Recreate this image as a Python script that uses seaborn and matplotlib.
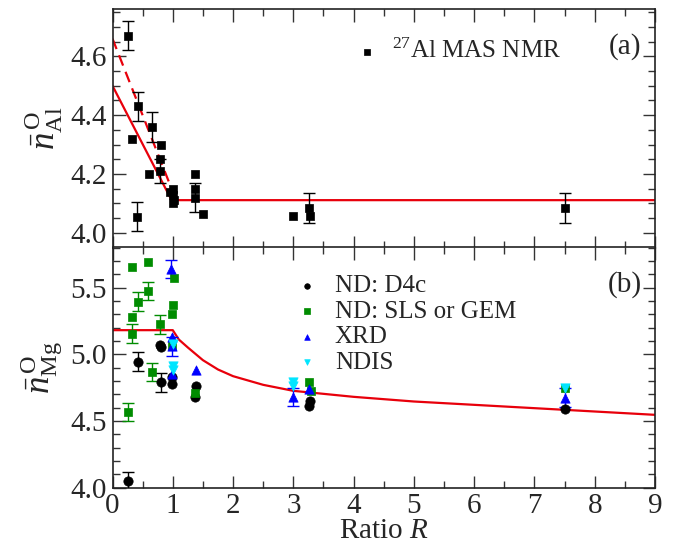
import numpy as np
import pandas as pd
import matplotlib
matplotlib.use("Agg")
import matplotlib.pyplot as plt
import seaborn as sns
from matplotlib.ticker import MultipleLocator

# ---------------- data ----------------
# (a) 27Al MAS NMR
al_x = [0.25, 0.32, 0.40, 0.42, 0.60, 0.66, 0.80, 0.79, 0.79, 0.95, 1.00, 1.00, 1.02, 1.00, 1.37, 1.37, 1.37, 1.50, 2.99, 3.26, 3.28, 7.51]
al_y = [4.67, 4.32, 4.055, 4.43, 4.20, 4.36, 4.30, 4.25, 4.21, 4.14, 4.15, 4.13, 4.11, 4.10, 4.20, 4.15, 4.12, 4.065, 4.057, 4.085, 4.057, 4.085]
al_e = [0.05, 0, 0.05, 0.05, 0, 0.05, 0, 0, 0.04, 0, 0, 0, 0, 0, 0, 0, 0.05, 0, 0, 0.05, 0, 0.05]

# model lines (a)
al_solid_x = [0.0, 0.98, 9.0]
al_solid_y = [4.50, 4.111, 4.111]
al_dash_x = [0.0, 0.97]
al_dash_y = [4.66, 4.155]

# (b) ND: D4c
d4c_x = [0.25, 0.42, 0.79, 0.80, 0.80, 0.99, 0.99, 1.37, 1.38, 3.26, 3.28, 7.51]
d4c_y = [4.05, 4.945, 5.07, 5.055, 4.79, 4.83, 4.775, 4.68, 4.76, 4.61, 4.65, 4.59]
d4c_e = [0.07, 0.07, 0, 0, 0.07, 0, 0, 0, 0, 0, 0, 0]

# (b) ND: SLS or GEM
sls_x = [0.33, 0.59, 0.32, 0.32, 0.42, 0.59, 0.79, 0.66, 0.25, 1.02, 1.01, 0.99, 0.99, 1.37, 3.26, 3.29, 7.51]
sls_y = [5.65, 5.69, 5.275, 5.155, 5.395, 5.475, 5.225, 4.867, 4.567, 5.575, 5.37, 5.305, 5.06, 4.71, 4.79, 4.725, 4.75]
sls_e = [0, 0, 0, 0.07, 0.07, 0.07, 0.07, 0.07, 0.07, 0, 0, 0, 0, 0, 0, 0, 0]

# (b) XRD
xrd_x = [0.97, 0.99, 0.99, 0.99, 1.38, 2.99, 3.26, 7.51]
xrd_y = [5.64, 5.13, 5.06, 4.85, 4.88, 4.68, 4.74, 4.675]
xrd_e = [0.07, 0, 0.07, 0, 0, 0.07, 0, 0.07]

# (b) NDIS
ndis_x = [1.00, 1.00, 1.00, 2.99, 2.99, 7.51]
ndis_y = [5.075, 4.91, 4.88, 4.79, 4.76, 4.75]
ndis_e = [0, 0, 0, 0, 0, 0]

# model curve (b)
mg_x = [0.0, 1.0, 1.1, 1.25, 1.5, 1.75, 2.0, 2.5, 3.0, 4.0, 5.0, 6.0, 7.0, 8.0, 9.0]
mg_y = [5.18, 5.18, 5.11, 5.05, 4.955, 4.885, 4.835, 4.77, 4.725, 4.68, 4.645, 4.62, 4.595, 4.57, 4.545]

x_ticks = [0, 1, 2, 3, 4, 5, 6, 7, 8, 9]

# ---------------- style ----------------
sns.set_theme(style="ticks")
plt.rcParams["font.family"] = "serif"
plt.rcParams["font.serif"] = ["Liberation Serif", "DejaVu Serif"]
plt.rcParams["mathtext.fontset"] = "custom"
plt.rcParams["mathtext.rm"] = "Liberation Serif"
plt.rcParams["mathtext.it"] = "Liberation Serif:italic"
plt.rcParams["mathtext.bf"] = "Liberation Serif:bold"

FS = 21
W, H = 683, 545
fig = plt.figure(figsize=(W / 100, H / 100), dpi=100)
left = 112.5 / W
width = (655 - 112.5) / W
ax1 = fig.add_axes([left, 1 - 247.5 / H, width, (247.5 - 9.3) / H])
ax2 = fig.add_axes([left, 1 - 487.5 / H, width, (487.5 - 247.5) / H])


def draw_series(ax, xs, ys, es, color, marker, size, label):
    df = pd.DataFrame({"x": xs, "y": ys, "e": es})
    dfe = df[df["e"] > 0]
    if len(dfe):
        ax.errorbar(dfe["x"], dfe["y"], yerr=dfe["e"], fmt="none", ecolor=color,
                    elinewidth=1.0, capsize=4, capthick=1.0, zorder=3)
    sns.scatterplot(data=df, x="x", y="y", ax=ax, color=color, marker=marker,
                    s=size, edgecolor=color, linewidth=0.5, label=label, zorder=4)


# panel (a)
sns.lineplot(x=al_solid_x, y=al_solid_y, ax=ax1, color="#e8000b", lw=1.6, zorder=2)
sns.lineplot(x=al_dash_x, y=al_dash_y, ax=ax1, color="#e8000b", lw=1.6,
             linestyle=(0, (5, 3)), zorder=2)
draw_series(ax1, al_x, al_y, al_e, "black", "s", 40, r"$^{27}$Al MAS NMR")

# panel (b)
sns.lineplot(x=mg_x, y=mg_y, ax=ax2, color="#e8000b", lw=1.6, zorder=2)
draw_series(ax2, d4c_x, d4c_y, d4c_e, "black", "o", 45, "ND: D4c")
draw_series(ax2, sls_x, sls_y, sls_e, "#008c00", "s", 38, "ND: SLS or GEM")
draw_series(ax2, xrd_x, xrd_y, xrd_e, "#0000ff", "^", 45, "XRD")
draw_series(ax2, ndis_x, ndis_y, ndis_e, "#00e5ff", "v", 45, "NDIS")

for ax in (ax1, ax2):
    ax.set_xlim(0, 9)
    ax.xaxis.set_major_locator(MultipleLocator(1))
    ax.xaxis.set_minor_locator(MultipleLocator(0.5))
    ax.tick_params(which="both", direction="in", top=True, right=True,
                   labelsize=FS, width=1.0, color="#333333", pad=4)
    ax.tick_params(which="major", length=9)
    ax.tick_params(which="minor", length=5)
    for s in ax.spines.values():
        s.set_linewidth(1.2)
        s.set_color("#222222")
    ax.set_xlabel("")
    ax.set_ylabel("")

ax1.set_ylim(3.95, 4.76)
ax1.set_yticks([4.0, 4.2, 4.4, 4.6])
ax1.set_yticklabels(["4.0", "4.2", "4.4", "4.6"])
ax1.yaxis.set_minor_locator(MultipleLocator(0.05))
ax1.tick_params(labelbottom=False)

ax2.set_ylim(4.0, 5.8)
ax2.set_yticks([4.0, 4.5, 5.0, 5.5])
ax2.set_yticklabels(["4.0", "4.5", "5.0", "5.5"])
ax2.yaxis.set_minor_locator(MultipleLocator(0.1))
ax2.set_xticks(x_ticks)
ax2.set_xticklabels([str(t) for t in x_ticks])
ax2.set_xlabel(r"Ratio $R$", fontsize=FS, labelpad=-1)

ax1.set_ylabel(r"$\bar{n}^{\,\mathrm{O}}_{\mathrm{Al}}$", fontsize=25, labelpad=4)
ax2.set_ylabel(r"$\bar{n}^{\,\mathrm{O}}_{\mathrm{Mg}}$", fontsize=25, labelpad=4)

leg1 = ax1.legend(loc="upper left", bbox_to_anchor=(0.40, 0.97), frameon=False,
                  fontsize=18, handletextpad=0.4, markerscale=0.6, handlelength=1.2)
leg2 = ax2.legend(loc="upper left", bbox_to_anchor=(0.29, 0.98), frameon=False,
                  fontsize=18, handletextpad=0.5, labelspacing=0.12, markerscale=0.6,
                  handlelength=1.2)

ax1.text(0.945, 0.845, "(a)", transform=ax1.transAxes, fontsize=FS, ha="center", va="center")
ax2.text(0.945, 0.845, "(b)", transform=ax2.transAxes, fontsize=FS, ha="center", va="center")

fig.savefig("out.png", dpi=100)
